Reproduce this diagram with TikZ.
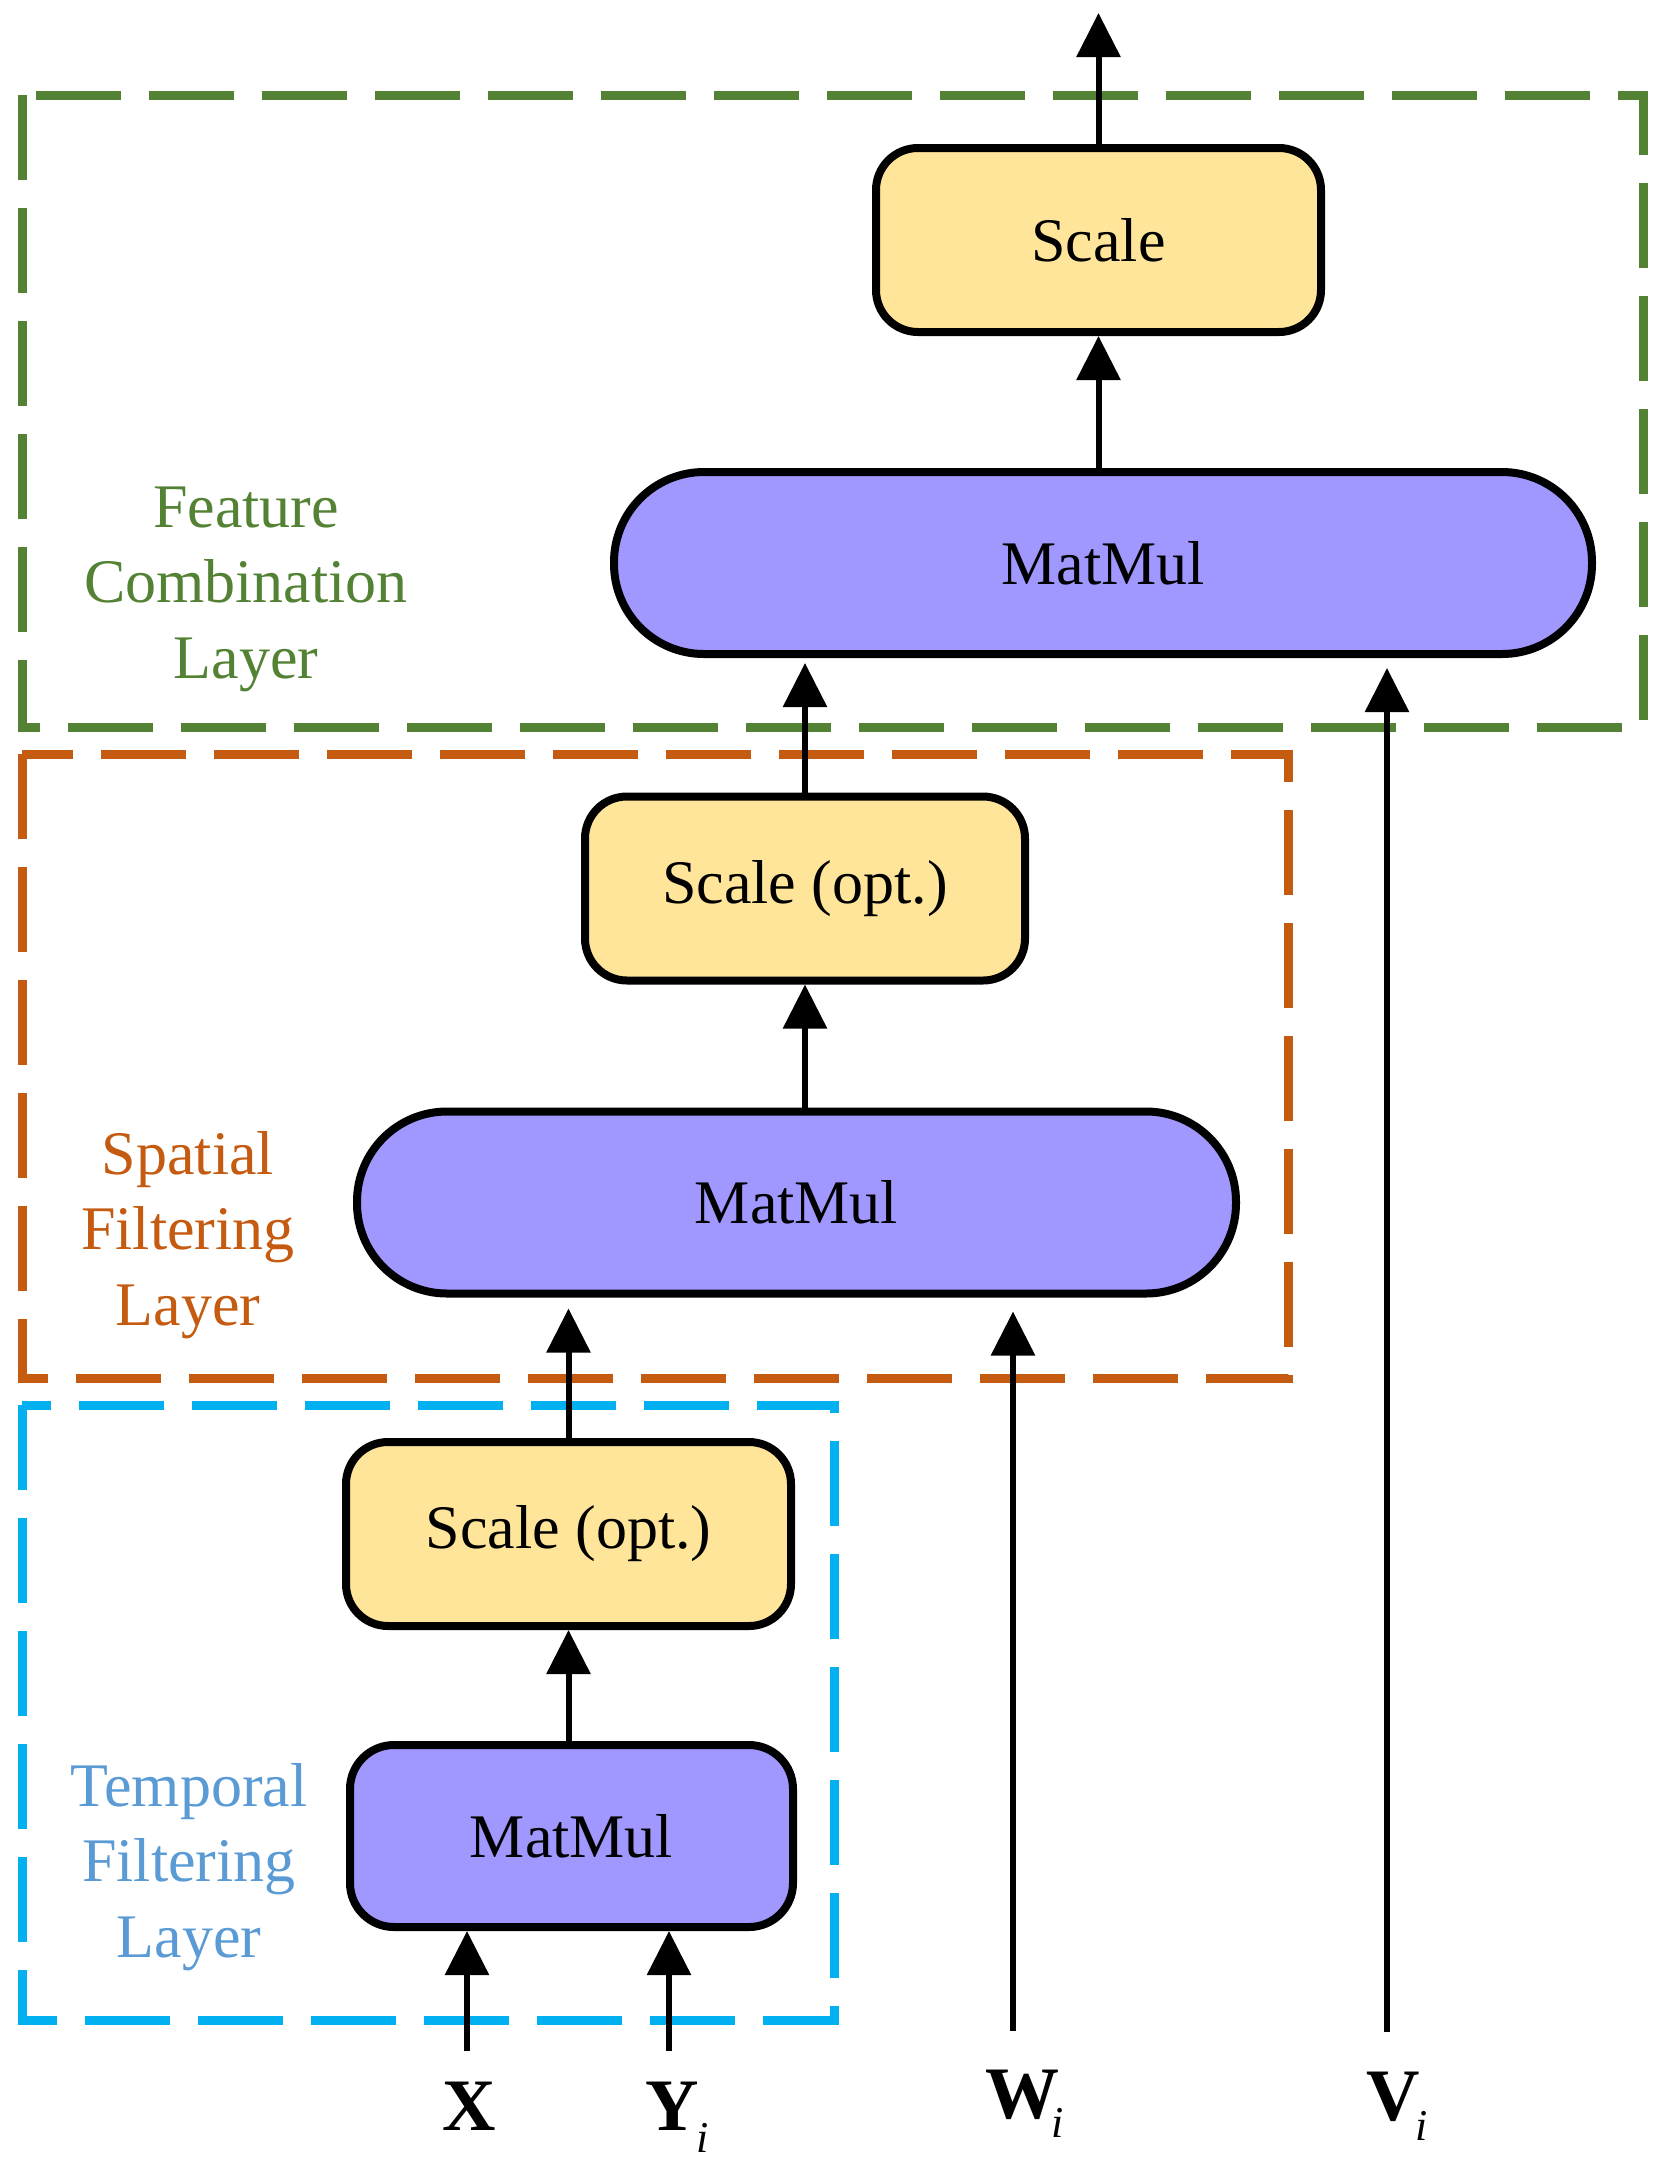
\documentclass[tikz,border=0pt]{standalone}
\usepackage{fontspec}
\setmainfont{Liberation Serif}
\usetikzlibrary{arrows.meta}
\definecolor{fcgreen}{RGB}{84,130,53}
\definecolor{sforange}{RGB}{197,90,17}
\definecolor{tfblue}{RGB}{0,176,240}
\definecolor{tftext}{RGB}{91,155,213}
\definecolor{mmfill}{RGB}{160,152,255}
\definecolor{scfill}{RGB}{255,229,153}
\begin{document}
\begin{tikzpicture}[x=0.5pt,y=-0.5pt,
  box/.style={draw=black, line width=4pt, inner sep=0pt, font=\fontsize{31}{37}\selectfont, text=black},
  scalebox/.style={box, fill=scfill, rounded corners=21pt, minimum width=222.5pt, minimum height=92pt},
  mmsmall/.style={box, fill=mmfill, rounded corners=22pt, minimum width=221.5pt, minimum height=91pt},
  mmbig/.style={box, fill=mmfill, rounded corners=45pt, minimum height=91pt},
  layerbox/.style={line width=4.5pt, dash pattern=on 42.5pt off 14pt},
  layertext/.style={align=center, font=\fontsize{31}{37.75}\selectfont, inner sep=0pt},
  conn/.style={line width=3pt, -{Triangle[length=22pt,width=21.5pt]}},
  inlab/.style={inner sep=0pt, anchor=base west, font=\fontsize{37}{40}\selectfont\bfseries}
]
\fill[white] (0,0) rectangle (1656,2170);
\useasboundingbox (0,0) rectangle (1656,2170);

% layer frames
\draw[layerbox, fcgreen] (22,95) rectangle (1643,727);
\draw[layerbox, sforange] (22,754) rectangle (1288,1378);
\draw[layerbox, tfblue] (22,1405) rectangle (834,2020);

% layer labels
\node[layertext, text=fcgreen] (fcl) at (246,589) {Feature\\Combination\\Layer};
\node[layertext, text=sforange] (sfl) at (188,1235) {Spatial\\Filtering\\Layer};
\node[layertext, text=tftext] (tfl) at (189,1867) {Temporal\\Filtering\\Layer};

% blocks
\node[scalebox] (sc3) at (1098.5,240) {Scale};
\node[mmbig, minimum width=489pt] (mm3) at (1103,563) {MatMul};
\node[scalebox, minimum width=220pt] (sc2) at (805,888.5) {Scale (opt.)};
\node[mmbig, minimum width=439.5pt] (mm2) at (796.5,1202.5) {MatMul};
\node[scalebox] (sc1) at (568.5,1534) {Scale (opt.)};
\node[mmsmall] (mm1) at (571.5,1836) {MatMul};

% inputs
\node[inlab] (xl) at (442,2130) {X};
\node[inlab] (yl) at (645,2130) {Y\kern-1pt\raisebox{-11pt}{\fontsize{22}{22}\selectfont\mdseries\itshape i}};
\node[inlab] (wl) at (985,2118) {W\kern-4pt\raisebox{-9.5pt}{\fontsize{22}{22}\selectfont\mdseries\itshape i}};
\node[inlab] (vl) at (1366,2120) {V\kern-2pt\raisebox{-10pt}{\fontsize{22}{22}\selectfont\mdseries\itshape i}};

\coordinate (out) at (1098.5,13);
\coordinate (xin) at (467,2051);
\coordinate (yin) at (669,2051);
\coordinate (win) at (1013,2031);
\coordinate (vin) at (1387,2032);

% connectors
\draw[conn] (sc3.north) -- (out);
\draw[conn] (sc3.south |- mm3.north) -- (sc3.south);
\draw[conn, shorten >=2.5pt] (sc2.north) -- (sc2.north |- mm3.south);
\draw[conn, shorten >=5pt] (vin) -- (vin |- mm3.south);
\draw[conn] (sc2.south |- mm2.north) -- (sc2.south);
\draw[conn, shorten >=5.5pt] (sc1.north) -- (sc1.north |- mm2.south);
\draw[conn, shorten >=7pt] (win) -- (win |- mm2.south);
\draw[conn] (sc1.south |- mm1.north) -- (sc1.south);
\draw[conn] (xin) -- (xin |- mm1.south);
\draw[conn] (yin) -- (yin |- mm1.south);
\end{tikzpicture}
\end{document}
